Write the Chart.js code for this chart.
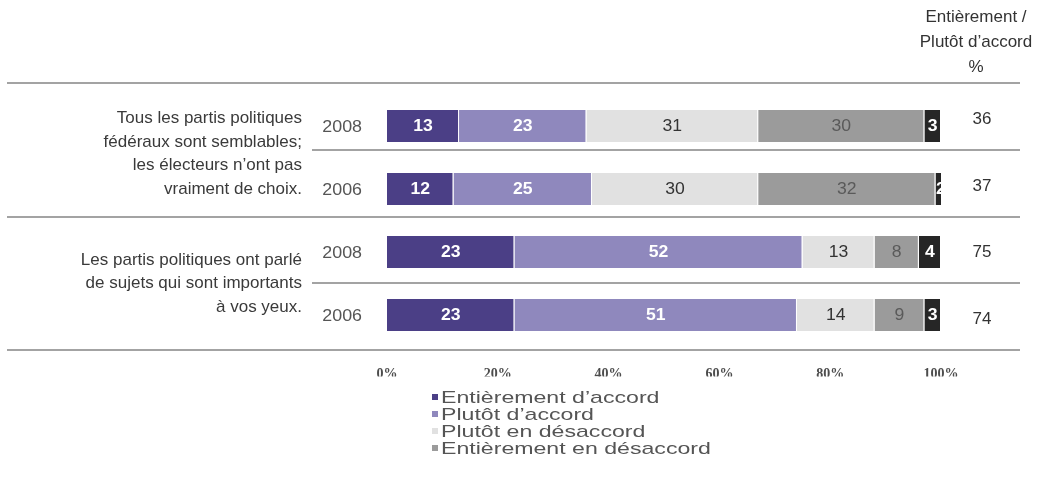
<!DOCTYPE html>
<html><head><meta charset="utf-8">
<script src="https://cdn.jsdelivr.net/npm/chart.js@4/dist/chart.umd.min.js"></script>
<style>html,body{margin:0;padding:0;background:#fff;overflow:hidden}</style>
</head><body>
<canvas id="c" width="1043" height="477"></canvas>
<script>
// ---- data ----
const years = ['2008', '2006', '2008', '2006'];
const entAccord = [13, 12, 23, 23];
const plutotAccord = [23, 25, 52, 51];
const plutotDesaccord = [31, 30, 13, 14];
const entDesaccord = [30, 32, 8, 9];
const nspRefus = [3, 2, 4, 3];
const totalAccord = [36, 37, 75, 74];
const seriesNames = ['Entièrement d’accord', 'Plutôt d’accord', 'Plutôt en désaccord', 'Entièrement en désaccord', 'NSP/Refus'];
const questions = [
  ['Tous les partis politiques', 'fédéraux sont semblables;', 'les électeurs n’ont pas', 'vraiment de choix.'],
  ['Les partis politiques ont parlé', 'de sujets qui sont importants', 'à vos yeux.']
];
const questionRows = [[0, 1], [2, 3]];
const xTickLabels = ['0%', '20%', '40%', '60%', '80%', '100%'];
const headerLines = ['Entièrement /', 'Plutôt d’accord', '%'];

// ---- styles ----
const colors = ['#4b3f86', '#8f88bd', '#e1e1e1', '#9b9b9b', '#262626'];
const labelColors = ['#ffffff', '#ffffff', '#333333', '#5a5a5a', '#ffffff'];
const labelWeights = ['bold', 'bold', 'normal', 'normal', 'bold'];
const inLegend = [true, true, true, true, false];
const SANS = '"Liberation Sans", Arial, sans-serif';
// separator positions (in category units) : [value, fullWidth]
const separators = [[-0.68, true], [0.38, false], [1.44, true], [2.49, false], [3.56, true]];

const seriesData = [entAccord, plutotAccord, plutotDesaccord, entDesaccord, nspRefus];

function stretchedText(ctx, txt, x, y, sx) {
  ctx.save();
  ctx.translate(x, y);
  ctx.scale(sx, 1);
  ctx.fillText(txt, 0, 0);
  ctx.restore();
}

const decorPlugin = {
  id: 'decor',
  beforeDatasetsDraw(chart) {
    const ctx = chart.ctx, ys = chart.scales.y;
    ctx.save();
    ctx.strokeStyle = '#a3a3a3';
    ctx.lineWidth = 2;
    separators.forEach(([v, full]) => {
      const y = Math.round(ys.getPixelForValue(v));
      ctx.beginPath();
      ctx.moveTo(full ? 7 : 312, y);
      ctx.lineTo(1020, y);
      ctx.stroke();
    });
    ctx.restore();
  },
  afterDatasetsDraw(chart) {
    const ctx = chart.ctx, ys = chart.scales.y;
    const sepPx = separators.map(([v]) => ys.getPixelForValue(v));
    ctx.save();
    // values in bars
    chart.data.datasets.forEach((ds, di) => {
      const meta = chart.getDatasetMeta(di);
      meta.data.forEach((el, i) => {
        const cx = (el.x + el.base) / 2;
        ctx.fillStyle = labelColors[di];
        ctx.font = labelWeights[di] + ' 16px ' + SANS;
        ctx.textAlign = 'center';
        ctx.textBaseline = 'middle';
        stretchedText(ctx, String(ds.data[i]), cx, el.y + 1, 1.1);
      });
    });
    // year labels
    ctx.font = '17px ' + SANS;
    ctx.fillStyle = '#555';
    ctx.textAlign = 'right';
    years.forEach((yr, i) => stretchedText(ctx, yr, 362, ys.getPixelForValue(i) + 1, 1.05));
    // totals, centred between separators
    ctx.font = '17px ' + SANS;
    ctx.fillStyle = '#333';
    ctx.textAlign = 'center';
    totalAccord.forEach((t, i) => ctx.fillText(String(t), 982, (sepPx[i] + sepPx[i + 1]) / 2 + 2.5));
    // header
    headerLines.forEach((t, i) => ctx.fillText(t, 976, 17 + i * 25));
    // question labels
    ctx.textAlign = 'right';
    ctx.fillStyle = '#3a3a3a';
    questions.forEach((lines, q) => {
      const [a, b] = questionRows[q];
      const sepMid = (sepPx[q * 2] + sepPx[q * 2 + 2]) / 2;
      const barMid = (ys.getPixelForValue(a) + ys.getPixelForValue(b)) / 2;
      const mid = (sepMid + barMid) / 2;
      const lh = 23.5;
      lines.forEach((ln, k) => {
        ctx.fillText(ln, 302, mid + (k - (lines.length - 1) / 2) * lh);
      });
    });
    // legend
    let ly = 397;
    ctx.textAlign = 'left';
    chart.data.datasets.forEach((ds, di) => {
      if (!inLegend[di]) return;
      ctx.fillStyle = colors[di];
      ctx.fillRect(432, ly - 3, 6, 6);
      ctx.fillStyle = '#555';
      ctx.font = '17px ' + SANS;
      stretchedText(ctx, ds.label, 441, ly + 1, 1.36);
      ly += 17;
    });
    ctx.restore();
  }
};

new Chart(document.getElementById('c'), {
  type: 'bar',
  data: {
    labels: years,
    datasets: seriesData.map((d, i) => ({
      label: seriesNames[i],
      data: d,
      backgroundColor: colors[i],
      borderColor: '#ffffff',
      borderWidth: { left: 0, top: 0, bottom: 0, right: 1 },
      borderSkipped: false,
      categoryPercentage: 1,
      barPercentage: 0.51
    }))
  },
  options: {
    indexAxis: 'y',
    responsive: false,
    animation: false,
    devicePixelRatio: 1,
    layout: { padding: { left: 387, right: 102, top: 94.5, bottom: 100.5 } },
    plugins: { legend: { display: false }, tooltip: { enabled: false } },
    scales: {
      x: {
        stacked: true, min: 0, max: 100,
        grid: { display: false, drawTicks: false },
        border: { display: false },
        ticks: {
          stepSize: 20, padding: 19, color: '#4d4d4d',
          font: { family: '"Liberation Serif", "DejaVu Serif", serif', weight: 'bold', size: 14 },
          callback: (v) => xTickLabels[v / 20]
        },
        afterFit: (s) => { s.height = 30; }
      },
      y: { stacked: true, display: false }
    }
  },
  plugins: [decorPlugin]
});
</script>
</body></html>
